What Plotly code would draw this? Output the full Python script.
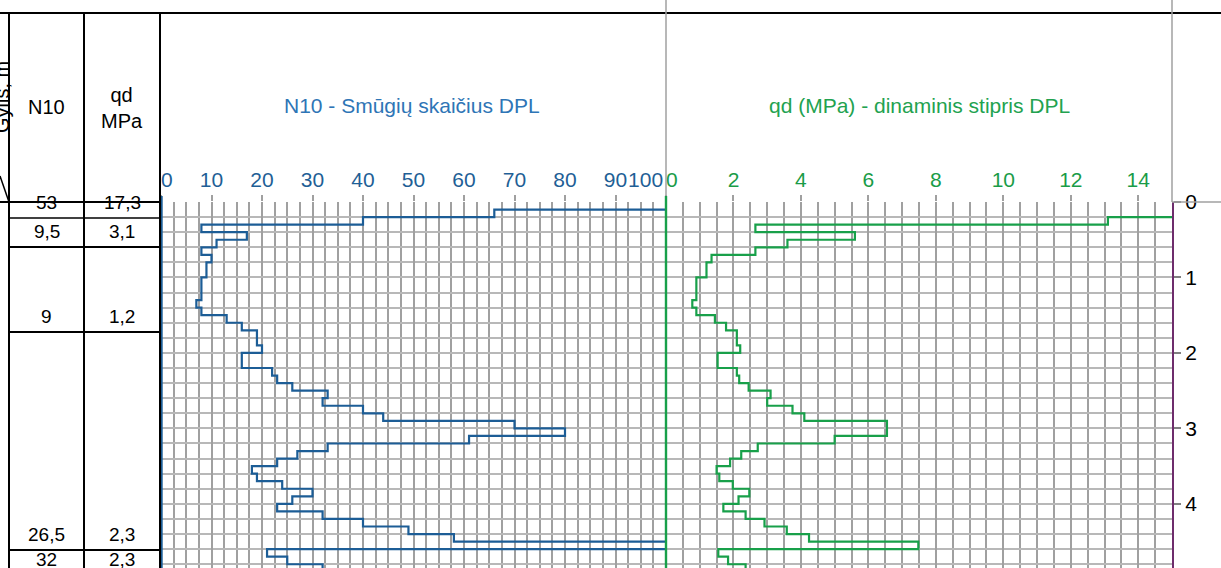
import plotly.graph_objects as go

# ---------------- data ----------------
depth_top = [0.0, 0.1, 0.2, 0.3, 0.4, 0.5, 0.6, 0.7, 0.8, 0.9,
             1.0, 1.1, 1.2, 1.3, 1.4, 1.5, 1.6, 1.7, 1.8, 1.9,
             2.0, 2.1, 2.2, 2.3, 2.4, 2.5, 2.6, 2.7, 2.8, 2.9,
             3.0, 3.1, 3.2, 3.3, 3.4, 3.5, 3.6, 3.7, 3.8, 3.9,
             4.0, 4.1, 4.2, 4.3, 4.4, 4.5, 4.6, 4.7, 4.8]
depth_end = 4.9

n10 = [110, 66, 40, 8, 17, 11, 8, 10, 9, 9,
       8, 8, 8, 7, 8, 13, 16, 19, 19, 20,
       16, 16, 22, 23, 26, 33, 32, 40, 44, 70,
       80, 61, 33, 27, 23, 18, 19, 24, 30, 26,
       23, 32, 40, 49, 58, 102, 21, 25, 32]

qd = [36, 21.5, 13.1, 2.65, 5.6, 3.6, 2.65, 1.35, 1.2, 1.2,
      0.9, 0.9, 0.9, 0.78, 0.9, 1.45, 1.78, 2.1, 2.1, 2.2,
      1.53, 1.53, 2.1, 2.17, 2.45, 3.1, 3.0, 3.75, 4.1, 6.55,
      6.55, 5.0, 2.72, 2.23, 1.9, 1.5, 1.58, 1.98, 2.47, 2.15,
      1.7, 2.36, 2.92, 3.58, 4.24, 7.48, 1.55, 1.84, 2.36]

table_n10 = ["53", "9,5", "9", "26,5", "32"]
table_qd = ["17,3", "3,1", "1,2", "2,3", "2,3"]

n10_ticks = [0, 10, 20, 30, 40, 50, 60, 70, 80, 90, 100]
qd_ticks = [0, 2, 4, 6, 8, 10, 12, 14]
depth_ticks = [0, 1, 2, 3, 4]

title_n10 = "N10 - Smūgių skaičius DPL"
title_qd = "qd (MPa) - dinaminis stipris DPL"

# ---------------- geometry helpers ----------------
W, H = 1221, 568
PL, PR, PT, PB = 161, 1172, 202, 568
PW, PH = PR - PL, PB - PT


def px(x):
    return (x - PL) / PW


def py(y):
    return (PB - y) / PH


BLUE_LINE = "#1c5d96"
BLUE_TXT = "#1f5f96"
BLUE_TITLE = "#2e75b6"
GREEN_LINE = "#18a04a"
GREEN_TXT = "#1a9c48"
GREEN_TITLE = "#22a24f"
GRID_V = "#a0a0a0"
GRID_H = "#b8b8b8"
FONT = "Liberation Sans, Arial, sans-serif"

split = px(666)

fig = go.Figure()

fig.add_trace(go.Scatter(
    x=n10 + [n10[-1]], y=depth_top + [depth_end],
    mode="lines", line=dict(color=BLUE_LINE, width=2.2, shape="vh"),
    xaxis="x", yaxis="y", showlegend=False, hoverinfo="skip"))

fig.add_trace(go.Scatter(
    x=qd + [qd[-1]], y=depth_top + [depth_end],
    mode="lines", line=dict(color=GREEN_LINE, width=2.2, shape="vh"),
    xaxis="x2", yaxis="y", showlegend=False, hoverinfo="skip"))

n10_text = ["\u00a0\u00a00"] + [str(v) for v in n10_ticks[1:-1]] + ["100" + "\u00a0" * 7]
qd_text = ["\u00a0\u00a00"] + [str(v) for v in qd_ticks[1:]]

common_x = dict(side="top", anchor="y", showline=False, zeroline=False,
                ticks="outside", ticklen=6, tickwidth=1.5, tickcolor=GRID_V,
                showgrid=True, gridcolor=GRID_V, gridwidth=1.6, tickangle=0)

fig.update_layout(
    width=W, height=H,
    margin=dict(l=PL, r=W - PR, t=PT, b=0),
    paper_bgcolor="white", plot_bgcolor="white",
    font=dict(family=FONT, color="black"),
    xaxis=dict(domain=[0, split], range=[0, 100],
               tickvals=n10_ticks, ticktext=n10_text,
               tickfont=dict(size=21, color=BLUE_TXT),
               minor=dict(dtick=2.5, showgrid=True, gridcolor=GRID_V, gridwidth=1.6, ticks=""),
               **common_x),
    xaxis2=dict(domain=[split, 1], range=[0, 15],
                tickvals=qd_ticks, ticktext=qd_text,
                tickfont=dict(size=21, color=GREEN_TXT),
                minor=dict(dtick=0.5, showgrid=True, gridcolor=GRID_V, gridwidth=1.6, ticks=""),
                **common_x),
    yaxis=dict(range=[4.85, 0], anchor="x2", side="right",
               tickvals=depth_ticks, ticks="outside", ticklen=7, tickwidth=1.5,
               tickcolor="#808080", tickfont=dict(size=21, color="black"),
               showline=True, linecolor="#6e2d6c", linewidth=2.2,
               showgrid=True, gridcolor=GRID_H, gridwidth=1.6, zeroline=False,
               minor=dict(dtick=0.2, showgrid=True, gridcolor=GRID_H, gridwidth=1.6)),
)

shapes = []


def line(x0, y0, x1, y1, color="black", width=2):
    shapes.append(dict(type="line", xref="paper", yref="paper",
                       x0=px(x0), y0=py(y0), x1=px(x1), y1=py(y1),
                       line=dict(color=color, width=width), layer="above"))


# panel axis lines (N10 left, qd left)
line(161.5, 196, 161.5, H, BLUE_LINE, 2.4)
line(666, 196, 666, H, GREEN_LINE, 2.4)

# header frame
line(0, 13, W, 13)
line(666, 0, 666, 196, GRID_V, 1.5)
line(1172, 0, 1172, 202, GRID_V, 1.5)
line(1172, 202, W, 202, GRID_V, 1.5)
# table frame
line(9, 13, 9, H)
line(84, 13, 84, H)
line(160, 13, 160, H)
line(0, 176, 9, 202, "black", 1.5)
row_px = [202, 218, 247, 332, 550, 575]
line(0, row_px[0], 160, row_px[0])
for k, yb in enumerate(row_px[1:-1]):
    line(9, yb, 160, yb, "black", 1.5 if k == 0 else 2)

fig.update_layout(shapes=shapes)

ann = []


def text(x, y, s, size, color="black", **kw):
    d = dict(xref="paper", yref="paper", x=px(x), y=py(y), text=s, showarrow=False,
             xanchor="center", yanchor="middle",
             font=dict(size=size, color=color, family=FONT))
    d.update(kw)
    ann.append(d)


text(412, 105, title_n10, 21, BLUE_TITLE)
text(919, 105, title_qd, 21, GREEN_TITLE)
text(46, 107, "N10", 20)
text(122, 108, "qd<br>MPa", 20)
text(2, 97, "Gylis, m", 20, textangle=-90)

for k in range(len(table_n10)):
    yb = row_px[k + 1] - 3
    text(46.5, yb, table_n10[k], 19, yanchor="bottom")
    text(122, yb, table_qd[k], 19, yanchor="bottom")

fig.update_layout(annotations=ann)

fig.write_html("out.html", config={"displayModeBar": False},
               post_script="document.body.style.margin='0';document.body.style.padding='0';")
